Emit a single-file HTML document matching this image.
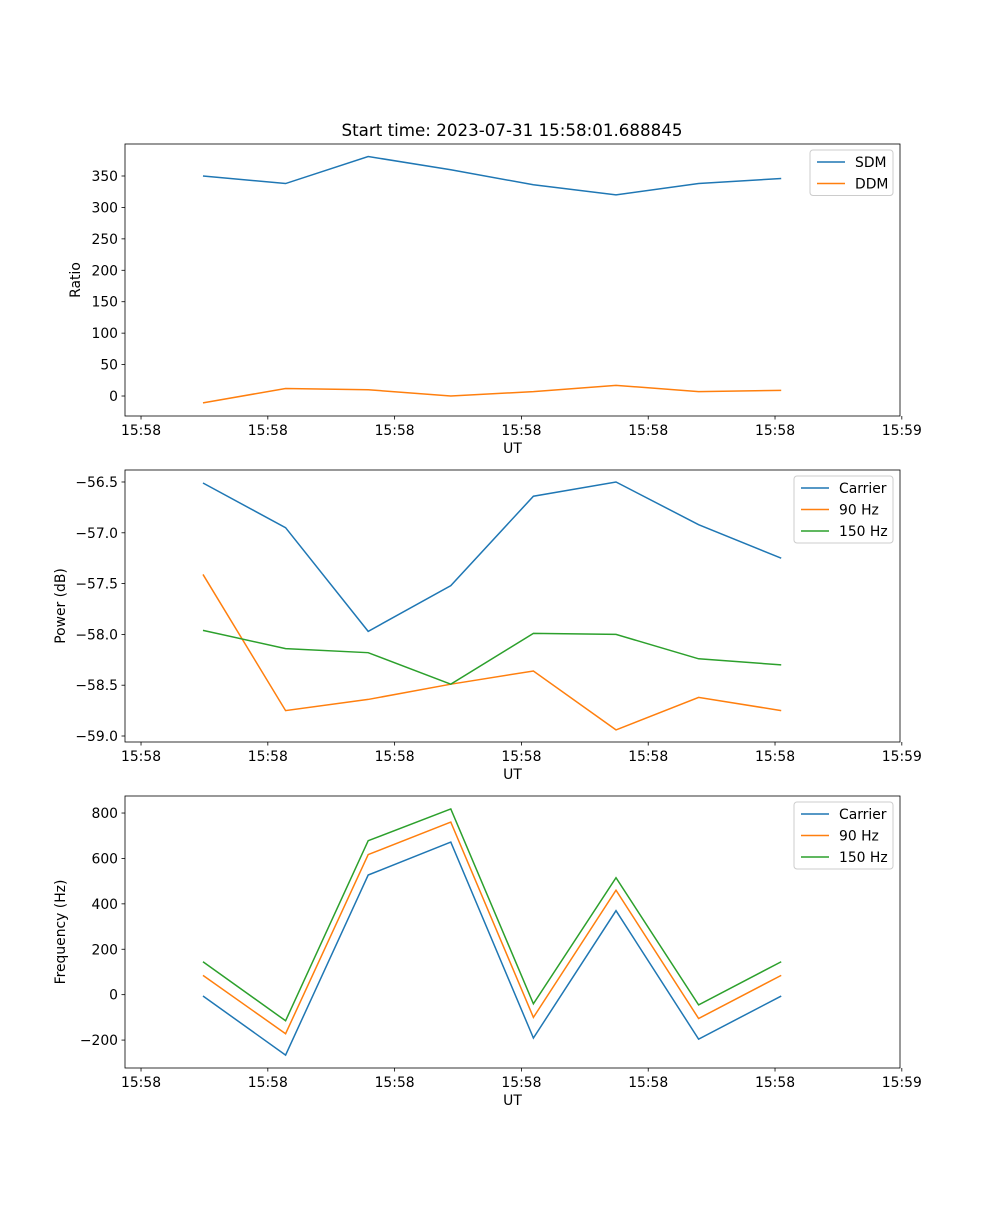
<!DOCTYPE html>
<html><head><meta charset="utf-8"><style>
body{margin:0;background:#fff}
svg{font-family:"DejaVu Sans","Liberation Sans",sans-serif}
</style></head><body>
<svg id="fig" width="1000" height="1200" viewBox="0 0 1000 1200" xmlns="http://www.w3.org/2000/svg">
<rect width="1000" height="1200" fill="#fff"/>
<text x="512" y="136" text-anchor="middle" font-size="16.7">Start time: 2023-07-31 15:58:01.688845</text>
</svg>
<script>
const sampleIdx=[0,1,2,3,4,5,6,7];
const xTickVals=[-0.75,0.785,2.32,3.855,5.39,6.925,8.46];
const xTickLabels=["15:58","15:58","15:58","15:58","15:58","15:58","15:59"];
const sdm=[350,338,381,360,336,320,338,346];
const ddm=[-11,12,10,0,7,17,7,9];
const ratioTicks=[0,50,100,150,200,250,300,350];
const pwrCarrier=[-56.51,-56.95,-57.97,-57.52,-56.64,-56.50,-56.92,-57.25];
const pwr90=[-57.41,-58.75,-58.64,-58.49,-58.36,-58.94,-58.62,-58.75];
const pwr150=[-57.96,-58.14,-58.18,-58.49,-57.99,-58.00,-58.24,-58.30];
const pwrTicks=[-56.5,-57.0,-57.5,-58.0,-58.5,-59.0];
const frqCarrier=[-6,-266,527,672,-191,370,-196,-6];
const frq90=[85,-172,617,760,-100,460,-105,85];
const frq150=[145,-115,678,818,-40,515,-45,145];
const frqTicks=[-200,0,200,400,600,800];

const svg=document.getElementById('fig');
const NS='http://www.w3.org/2000/svg';
function mk(tag,attrs,parent){const e=document.createElementNS(NS,tag);for(const k in attrs)e.setAttribute(k,attrs[k]);(parent||svg).appendChild(e);return e;}
const L=125,R=900;
const xs=i=>L+(i+0.944)/(8.438+0.944)*(R-L);
const C=['#1f77b4','#ff7f0e','#2ca02c'];

function panel(name,top,bot,ymin,ymax,yticks,fmt,ylabel,series,labels,legW){
  const g=mk('g',{});
  
  
  const ys=v=>bot-(v-ymin)/(ymax-ymin)*(bot-top);
  yticks.forEach(t=>{
    const y=ys(t);
    const l=mk('line',{x1:L-3.5,x2:L,y1:y,y2:y,stroke:'#000','stroke-width':0.8},g);
    
    const tx=mk('text',{x:L-7,y:y+5,'text-anchor':'end','font-size':13.9},g);
    
    tx.textContent=fmt(t);
  });
  xTickVals.forEach((t,k)=>{
    const x=xs(t);
    const l=mk('line',{x1:x,x2:x,y1:bot,y2:bot+3.5,stroke:'#000','stroke-width':0.8},g);
    
    const tx=mk('text',{x:x,y:bot+19,'text-anchor':'middle','font-size':13.9},g);
    
    tx.textContent=xTickLabels[k];
  });
  const xl=mk('text',{x:(L+R)/2,y:bot+37,'text-anchor':'middle','font-size':13.9},g);
  
  xl.textContent='UT';
  const cy=(top+bot)/2;
  const yl=mk('text',{x:0,y:0,'text-anchor':'middle','font-size':13.9,transform:`translate(${name==='ratio-panel'?80:65},${cy}) rotate(-90)`},g);
  
  yl.textContent=ylabel;
  series.forEach((s,k)=>{
    const p=mk('polyline',{points:s.map((v,i)=>xs(sampleIdx[i])+','+ys(v)).join(' '),fill:'none',stroke:C[k],'stroke-width':1.5},g);
    
    
  });
  const fr=mk('rect',{x:L,y:top,width:R-L,height:bot-top,fill:'none',stroke:'#000','stroke-width':0.8},g);
  
  const lx=R-7-legW, ly=top+6;
  const lg=mk('g',{},g);
  
  mk('rect',{x:lx,y:ly,width:legW,height:24+(labels.length-1)*21.5,rx:3,fill:'#fff','fill-opacity':0.8,stroke:'#ccc'},lg);
  labels.forEach((lab,k)=>{
    const yy=ly+12+k*21.5;
    const e=mk('g',{},lg);
    
    mk('line',{x1:lx+7,x2:lx+35,y1:yy,y2:yy,stroke:C[k],'stroke-width':1.5},e);
    const t=mk('text',{x:lx+45,y:yy+5,'font-size':13.9},e);
    t.textContent=lab;
  });
}
panel('ratio-panel',144,416,-31.8,400.9,ratioTicks,v=>String(v),'Ratio',[sdm,ddm],['SDM','DDM'],83);
panel('power-panel',470,742,-59.059,-56.382,pwrTicks,v=>(v<0?'\u2212':'')+Math.abs(v).toFixed(1),'Power (dB)',[pwrCarrier,pwr90,pwr150],['Carrier','90 Hz','150 Hz'],99);
panel('frequency-panel',796,1068,-323,875,frqTicks,v=>(v<0?'\u2212':'')+Math.abs(v),'Frequency (Hz)',[frqCarrier,frq90,frq150],['Carrier','90 Hz','150 Hz'],99);
</script>
</body></html>
